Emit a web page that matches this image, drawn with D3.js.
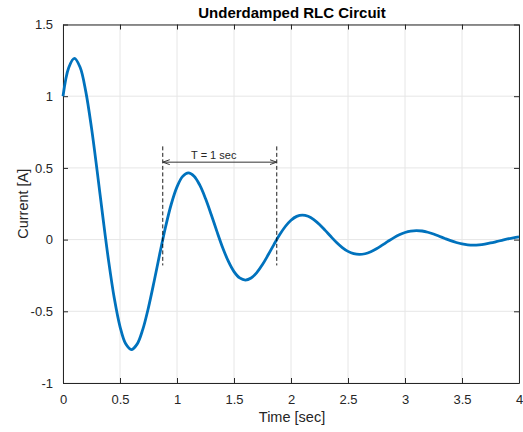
<!DOCTYPE html>
<html><head><meta charset="utf-8">
<script src="https://cdn.jsdelivr.net/npm/d3@7"></script>
<style>body{margin:0;background:#fff;}svg{display:block;font-family:"Liberation Sans",Arial,Helvetica,sans-serif;}</style>
</head><body>
<svg id="c" width="523" height="432"></svg>
<script>
const timeValues = d3.range(0, 81).map(i => i * 0.05);
const currentValues = [
 1.000, 1.199, 1.264, 1.202, 1.032, 0.7788, 0.4757, 0.1559, -0.1483, -0.4094,
 -0.6065, -0.7270, -0.7666, -0.7291, -0.6258, -0.4724, -0.2885, -0.0945, 0.0899, 0.2483,
 0.3679, 0.4410, 0.4650, 0.4423, 0.3795, 0.2865, 0.1750, 0.0574, -0.0546, -0.1506,
 -0.2231, -0.2675, -0.2820, -0.2682, -0.2302, -0.1738, -0.1061, -0.0348, 0.0331, 0.0913,
 0.1353, 0.1622, 0.1710, 0.1627, 0.1396, 0.1054, 0.0644, 0.0211, -0.0201, -0.0554,
 -0.0821, -0.0984, -0.1037, -0.0987, -0.0847, -0.0639, -0.0390, -0.0128, 0.0122, 0.0336,
 0.0498, 0.0597, 0.0629, 0.0599, 0.0514, 0.0388, 0.0237, 0.0078, -0.0074, -0.0204,
 -0.0302, -0.0362, -0.0382, -0.0363, -0.0312, -0.0235, -0.0144, -0.0047, 0.0045, 0.0124,
 0.0183
];
const xTicks = [0, 0.5, 1, 1.5, 2, 2.5, 3, 3.5, 4];
const yTicks = [-1, -0.5, 0, 0.5, 1, 1.5];
const periodMarks = [0.875, 1.875];
const periodSpan = [-0.18, 0.65];
const arrowLevel = 0.54;
const periodLabel = "T = 1 sec";

const svg = d3.select("#c");
const L = 63, R = 519, T = 24.5, B = 383;
const x = d3.scaleLinear().domain([0, 4]).range([L, R]);
const y = d3.scaleLinear().domain([-1, 1.5]).range([B, T]);
const ink = "#262626";

// grid
svg.append("g").selectAll("line").data(xTicks).join("line")
  .attr("x1", d => x(d)).attr("x2", d => x(d)).attr("y1", T).attr("y2", B)
  .attr("stroke", "#e6e6e6").attr("stroke-width", 1);
svg.append("g").selectAll("line").data(yTicks).join("line")
  .attr("y1", d => y(d)).attr("y2", d => y(d)).attr("x1", L).attr("x2", R)
  .attr("stroke", "#e6e6e6").attr("stroke-width", 1);

// axes
const fmt = d => String(d);
function styleAxis(g, hideLabels) {
  g.select(".domain").attr("stroke", ink).attr("stroke-width", 1);
  g.selectAll(".tick line").attr("stroke", ink);
  g.selectAll(".tick text").attr("fill", ink).style("font-size", "13px")
    .style("font-family", "Liberation Sans, Arial, sans-serif");
  if (hideLabels) g.selectAll(".tick text").remove();
}
svg.append("g").attr("transform", `translate(0,${B})`)
  .call(d3.axisBottom(x).tickValues(xTicks).tickFormat(fmt).tickSizeInner(-5).tickSizeOuter(0).tickPadding(12))
  .call(g => styleAxis(g, false));
svg.append("g").attr("transform", `translate(0,${T})`)
  .call(d3.axisTop(x).tickValues(xTicks).tickSizeInner(-5).tickSizeOuter(0))
  .call(g => styleAxis(g, true));
svg.append("g").attr("transform", `translate(${L},0)`)
  .call(d3.axisLeft(y).tickValues(yTicks).tickFormat(fmt).tickSizeInner(-5).tickSizeOuter(0).tickPadding(10))
  .call(g => styleAxis(g, false));
svg.append("g").attr("transform", `translate(${R},0)`)
  .call(d3.axisRight(y).tickValues(yTicks).tickSizeInner(-5).tickSizeOuter(0))
  .call(g => styleAxis(g, true));

// curve
const pts = timeValues.map((t, i) => [t, currentValues[i]]);
svg.append("path").datum(pts)
  .attr("d", d3.line().x(d => x(d[0])).y(d => y(d[1])).curve(d3.curveCatmullRom.alpha(0.5)))
  .attr("fill", "none").attr("stroke", "#0072BD").attr("stroke-width", 2.8)
  .attr("stroke-linejoin", "round");

// annotation
svg.append("g").selectAll("line").data(periodMarks).join("line")
  .attr("x1", d => x(d)).attr("x2", d => x(d))
  .attr("y1", y(periodSpan[1])).attr("y2", y(periodSpan[0]))
  .attr("stroke", "#000").attr("stroke-width", 0.9).attr("stroke-dasharray", "4,2.5");
const defs = svg.append("defs");
defs.append("marker").attr("id", "ah").attr("viewBox", "0 0 10 10").attr("refX", 10).attr("refY", 5)
  .attr("markerWidth", 7).attr("markerHeight", 7).attr("orient", "auto-start-reverse")
  .attr("markerUnits", "userSpaceOnUse")
  .append("path").attr("d", "M0,1.5 L10,5 L0,8.5").attr("fill", "none").attr("stroke", "#333").attr("stroke-width", 1.4);
svg.append("line")
  .attr("x1", x(periodMarks[0])).attr("x2", x(periodMarks[1]))
  .attr("y1", y(arrowLevel)).attr("y2", y(arrowLevel))
  .attr("stroke", "#333").attr("stroke-width", 1)
  .attr("marker-start", "url(#ah)").attr("marker-end", "url(#ah)");
svg.append("text").attr("x", (x(periodMarks[0]) + x(periodMarks[1])) / 2 - 6).attr("y", y(arrowLevel) - 3)
  .attr("text-anchor", "middle").style("font-size", "11px").attr("fill", ink).text(periodLabel);

// labels
svg.append("text").attr("x", 292).attr("y", 18).attr("text-anchor", "middle")
  .style("font-size", "15px").style("font-weight", "bold").attr("fill", "#000").text("Underdamped RLC Circuit");
svg.append("text").attr("x", 292).attr("y", 422).attr("text-anchor", "middle")
  .style("font-size", "14.5px").attr("fill", ink).text("Time [sec]");
svg.append("text").attr("transform", `translate(27.5,${(T + B) / 2}) rotate(-90)`).attr("text-anchor", "middle")
  .style("font-size", "14.5px").attr("fill", ink).text("Current [A]");
</script>
</body></html>
